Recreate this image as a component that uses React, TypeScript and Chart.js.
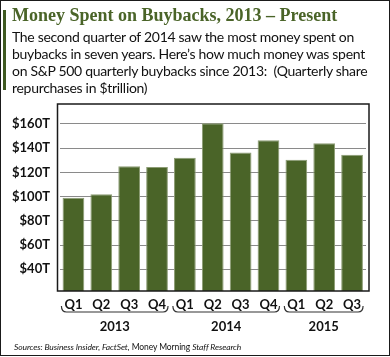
import React, { useEffect, useRef } from 'react';
import { Chart, registerables } from 'chart.js';
Chart.register(...registerables);

const quarters = ['Q1', 'Q2', 'Q3', 'Q4', 'Q1', 'Q2', 'Q3', 'Q4', 'Q1', 'Q2', 'Q3'];
const buybacks = [99, 102, 125, 124.5, 132, 160.5, 136.5, 146.5, 130.5, 144, 134.5];
const years = ['2013', '2014', '2015'];
const yearStart = [0, 4, 8];
const yearEnd = [3, 7, 10];
const yTicks = [40, 60, 80, 100, 120, 140, 160];
const yMin = 22;
const yMax = 176.5;

const GREEN = '#4a6428';

const decor = {
  id: 'decor',
  afterDraw(chart: any) {
    const { ctx, chartArea: a, scales } = chart;
    const x = scales.x;
    ctx.save();
    ctx.strokeStyle = '#1a1a1a';
    ctx.lineWidth = 1.5;
    ctx.strokeRect(a.left - 2, a.top, a.right - a.left + 5, a.bottom - a.top);
    ctx.lineWidth = 1.2;
    ctx.strokeStyle = '#333';
    ctx.fillStyle = '#111';
    ctx.font = 'bold 13px Lato';
    ctx.textAlign = 'center';
    ctx.textBaseline = 'middle';
    years.forEach((yr, i) => {
      const l = x.getPixelForValue(yearStart[i]) - 12;
      const r = x.getPixelForValue(yearEnd[i]) + 11;
      const yb = a.bottom + 21;
      const yt = a.bottom + 15;
      const rad = 5;
      ctx.beginPath();
      ctx.moveTo(l, yt);
      ctx.quadraticCurveTo(l, yb, l + rad, yb);
      ctx.lineTo(r - rad, yb);
      ctx.quadraticCurveTo(r, yb, r, yt);
      ctx.stroke();
      ctx.fillText(yr, (l + r) / 2, a.bottom + 36);
    });
    ctx.restore();
  },
};

export default function App() {
  const ref = useRef<HTMLCanvasElement>(null);
  useEffect(() => {
    document.body.style.margin = '0';
    const chart = new Chart(ref.current!, {
      type: 'bar',
      data: {
        labels: quarters,
        datasets: [
          {
            data: buybacks,
            backgroundColor: GREEN,
            borderColor: '#8c9c74',
            borderWidth: 1,
            barPercentage: 0.78,
            categoryPercentage: 1,
          },
        ],
      },
      options: {
        responsive: false,
        animation: false,
        layout: { padding: { top: 104, right: 24, left: 0, bottom: 0 } },
        plugins: { legend: { display: false }, tooltip: { enabled: false } },
        scales: {
          x: {
            grid: { display: false, drawTicks: false },
            border: { display: false },
            ticks: { color: '#111', font: { family: 'Lato', size: 13, weight: 'bold' }, padding: 6, maxRotation: 0 },
            afterFit(s: any) { s.height = 66; },
          },
          y: {
            min: yMin,
            max: yMax,
            afterBuildTicks(s: any) { s.ticks = yTicks.map((v) => ({ value: v })); },
            grid: { color: '#8a8a8a', lineWidth: 1, drawTicks: false },
            border: { display: false },
            ticks: {
              color: '#111',
              font: { family: 'Lato', size: 13, weight: 'bold' },
              padding: 9.5,
              callback: (v: any) => '$' + v + 'T',
            },
            afterFit(s: any) { s.width = 59.5; },
          },
        },
      },
      plugins: [decor],
    });
    return () => chart.destroy();
  }, []);

  return (
    <div style={{ position: 'relative', width: 390, height: 357, background: '#fff', overflow: 'hidden' }}>
      <canvas ref={ref} width={390} height={357} style={{ position: 'absolute', left: 0, top: 0 }} />
      <div style={{ position: 'absolute', left: 0, top: 0, width: 390, height: 356, boxSizing: 'border-box', border: '1.5px solid #1a1a1a', pointerEvents: 'none' }} />
      <div style={{ position: 'absolute', left: 3, top: 10, width: 3, height: 80, background: '#3f5a22' }} />
      <div style={{ position: 'absolute', left: 12, top: 6, fontFamily: '"Liberation Serif", serif', fontWeight: 'bold', fontSize: 18, lineHeight: '18px', color: GREEN, whiteSpace: 'nowrap' }}>
        Money Spent on Buybacks, 2013 – Present
      </div>
      <div style={{ position: 'absolute', left: 12, top: 28, fontFamily: 'Lato, sans-serif', fontSize: 14, letterSpacing: '-0.3px', lineHeight: '17px', color: '#111', whiteSpace: 'nowrap' }}>
        <div>The second quarter of 2014 saw the most money spent on</div>
        <div>buybacks in seven years. Here’s how much money was spent</div>
        <div>on S&amp;P 500 quarterly buybacks since 2013:&nbsp; (Quarterly share</div>
        <div>repurchases in $trillion)</div>
      </div>
      <div style={{ position: 'absolute', left: 14, top: 341, fontFamily: 'Lato, sans-serif', fontSize: 8.5, letterSpacing: '-0.1px', lineHeight: '12px', color: '#111', whiteSpace: 'nowrap' }}>
        <i>Sources: Business Insider, FactSet,</i> Money Morning <i>Staff Research</i>
      </div>
    </div>
  );
}
